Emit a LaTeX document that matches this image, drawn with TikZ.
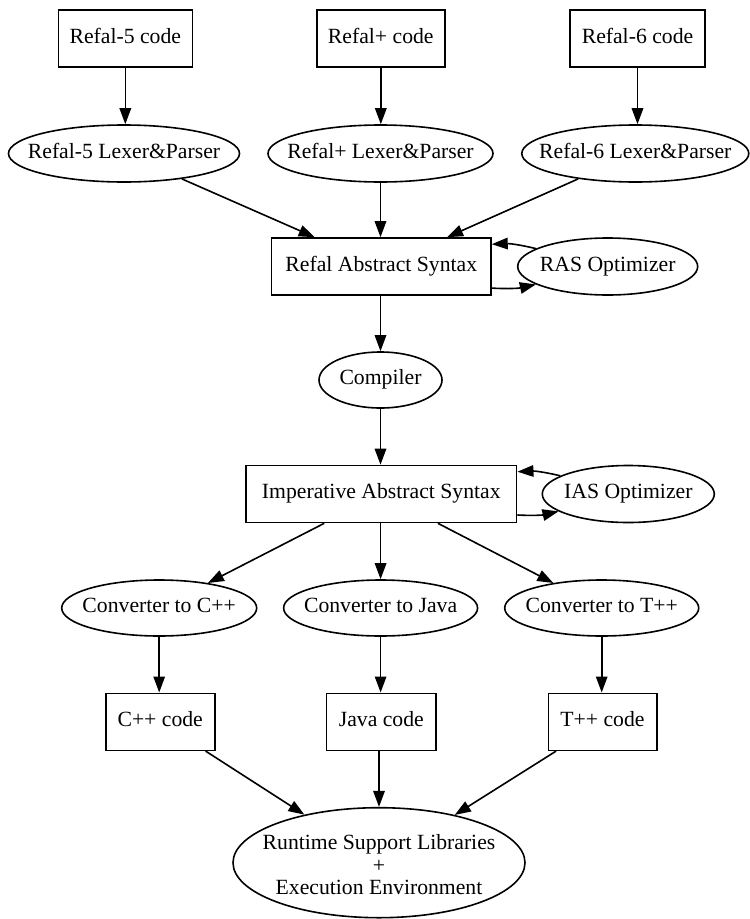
\documentclass[tikz,border=0pt]{standalone}
\usepackage{fontspec}
\setmainfont{Liberation Serif}
\usetikzlibrary{arrows.meta,shapes.geometric,calc}
\begin{document}
\begin{tikzpicture}[x=1pt,y=-1pt,
  every node/.style={font=\fontsize{21.7}{22.5}\selectfont},
  boxn/.style={draw, line width=1.6pt, rectangle, inner sep=0pt, minimum height=57pt, text height=0.9em, text depth=0pt},
  elln/.style={draw, line width=1.6pt, ellipse, inner sep=0pt, minimum height=57pt},
  lbl/.style={inner sep=0pt, text height=0.9em, text depth=0pt},
  arr/.style={-{Triangle[length=16pt,width=11.5pt]}, line width=1.6pt},
]
\useasboundingbox (0,0) rectangle (750,919);

% sources
\node[boxn, minimum width=134pt] (c5) at (125.3,38.5) {Refal-5 code};
\node[boxn, minimum width=128pt] (cp) at (380.8,38.5) {Refal+ code};
\node[boxn, minimum width=135pt] (c6) at (637.5,38.5) {Refal-6 code};

% parsers
\node[elln, minimum width=231pt, label={[lbl]center:Refal-5 Lexer\&Parser}] (l5) at (124,153.5) {};
\node[elln, minimum width=225pt, label={[lbl]center:Refal+ Lexer\&Parser}] (lp) at (380.5,153.5) {};
\node[elln, minimum width=227pt, label={[lbl]center:Refal-6 Lexer\&Parser}] (l6) at (635.3,153.5) {};

% RAS
\node[boxn, minimum width=219.3pt] (ras) at (381.3,266.5) {Refal Abstract Syntax};
\node[elln, minimum width=180pt, label={[lbl]center:RAS Optimizer}] (rasopt) at (607.7,266.5) {};

% compiler
\node[elln, minimum width=123pt, minimum height=56pt, label={[lbl]center:Compiler}] (comp) at (380.5,380) {};

% IAS
\node[boxn, minimum width=270.7pt] (ias) at (381.3,494) {Imperative Abstract Syntax};
\node[elln, minimum width=172pt, label={[lbl]center:IAS Optimizer}] (iasopt) at (628.3,494) {};

% converters
\node[elln, minimum width=195pt, minimum height=56pt, label={[lbl]center:Converter to C++}] (cc) at (159.2,608) {};
\node[elln, minimum width=194pt, minimum height=56pt, label={[lbl]center:Converter to Java}] (cj) at (380.6,608) {};
\node[elln, minimum width=194pt, minimum height=56pt, label={[lbl]center:Converter to T++}] (ct) at (601.7,608) {};

% code
\node[boxn, minimum width=109pt] (ccode) at (160.2,721.8) {C++ code};
\node[boxn, minimum width=109.3pt] (jcode) at (381.3,721.8) {Java code};
\node[boxn, minimum width=108.4pt] (tcode) at (602.5,721.8) {T++ code};

% runtime
\node[elln, minimum width=292pt, minimum height=110pt,
  label={[inner sep=0pt, align=center, yshift=-2.3pt]center:Runtime Support Libraries\\+\\Execution Environment}] (rt) at (379,862.7) {};

% edges
\draw[arr] (c5) -- (c5 |- l5.north);
\draw[arr] (cp) -- (cp |- lp.north);
\draw[arr] (c6) -- (c6 |- l6.north);
\draw[arr] (l5) -- (ras);
\draw[arr] (lp) -- (lp |- ras.north);
\draw[arr] (l6) -- (ras);
\draw[arr] (rasopt.166) to[bend right=8] ([yshift=-7pt]ras.north east);
\draw[arr] ([yshift=7.7pt]ras.south east) to[bend right=8] (rasopt.194);
\draw[arr] (ras.south -| comp) -- (comp);
\draw[arr] (comp) -- (comp |- ias.north);
\draw[arr] (iasopt.165) to[bend right=8] ([yshift=-7pt]ias.north east);
\draw[arr] ([yshift=8.3pt]ias.south east) to[bend right=8] (iasopt.194.5);
\draw[arr] (ias) -- (cc);
\draw[arr] (ias.south -| cj) -- (cj);
\draw[arr] (ias) -- (ct);
\draw[arr] (cc) -- (cc |- ccode.north);
\draw[arr] (cj) -- (cj |- jcode.north);
\draw[arr] (ct) -- (ct |- tcode.north);
\draw[arr] (ccode) -- (rt);
\draw[arr] (jcode.south -| rt) -- (rt);
\draw[arr] (tcode) -- (rt);
\end{tikzpicture}
\end{document}
